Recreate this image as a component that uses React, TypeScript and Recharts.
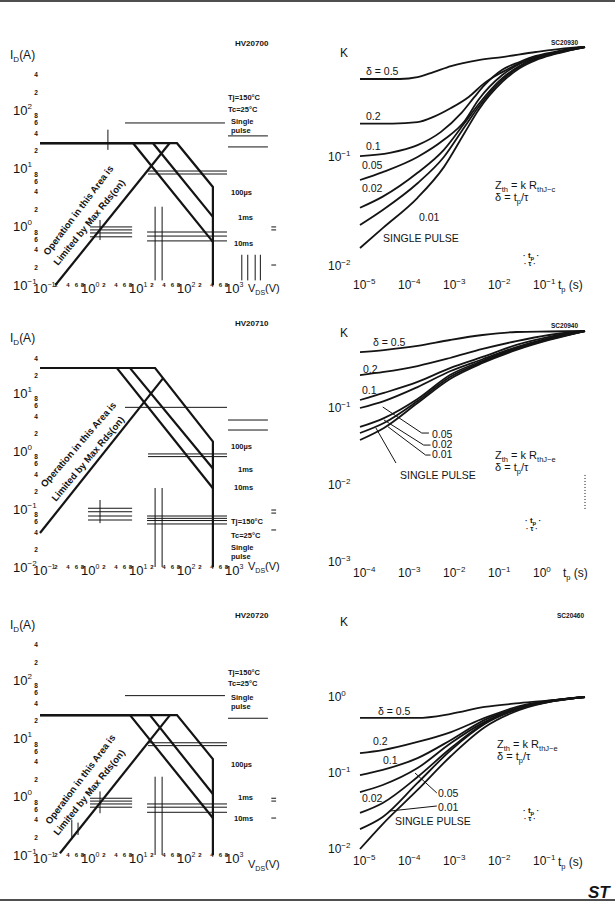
import React from 'react';
import { LineChart, Line, XAxis, YAxis, ReferenceLine } from 'recharts';

type P = [number, number];
type Seg = [number, number, number, number];

const FONT = '"Liberation Sans", Arial, Helvetica, sans-serif';
const INK = '#141414';

// ---------- Safe operating area (left column) ----------
const soaXTicks = [0.1, 0.2, 0.4, 0.6, 0.8, 1, 2, 4, 6, 8, 10, 20, 40, 60, 80, 100, 200, 400, 600, 800, 1000];
const soaYTicksA = [0.1, 0.2, 0.4, 0.6, 0.8, 1, 2, 4, 6, 8, 10, 20, 40, 60, 80, 100, 200, 400];
const soaYTicksB = [0.01, 0.02, 0.04, 0.06, 0.08, 0.1, 0.2, 0.4, 0.6, 0.8, 1, 2, 4, 6, 8, 10, 20, 40];

// HV20700
const hv20700_100us: P[] = [[0.1, 27], [71.5, 27], [400, 4.8], [400, 0.1]];
const hv20700_1ms: P[] = [[0.1, 27], [22.6, 27], [400, 1.47]];
const hv20700_10ms: P[] = [[0.1, 27], [8.7, 27], [400, 0.55]];
const hv20700_rds: P[] = [[0.21, 0.1], [50, 27]];
const hv20700_marks: Seg[] = [
  [5.9, 60, 714, 60], [826, 36, 5600, 36], [826, 23.3, 5600, 23.3],
  [17.8, 9.0, 787, 9.0], [17.8, 8.0, 787, 8.0],
  [1.1, 0.99, 8.3, 0.99], [1.1, 0.88, 8.3, 0.88], [1.1, 0.78, 8.3, 0.78], [1.1, 0.67, 8.3, 0.67],
  [1.78, 1.3, 1.78, 0.59],
  [17, 0.81, 787, 0.81], [17, 0.69, 787, 0.69], [17, 0.57, 787, 0.57],
  [25, 2.2, 25, 0.12], [35, 2.2, 35, 0.12],
  [1600, 0.33, 1600, 0.12], [2130, 0.33, 2130, 0.12], [3040, 0.33, 3040, 0.12], [3900, 0.33, 3900, 0.12],
  [2.6, 46, 2.6, 20.7],
  [6600, 0.99, 8300, 0.99], [6600, 0.88, 8300, 0.88], [6600, 0.22, 8300, 0.22],
];

// HV20710
const hv20710_100us: P[] = [[0.1, 27], [25, 27], [400, 1.45], [400, 0.01]];
const hv20710_1ms: P[] = [[0.1, 27], [7.5, 27], [400, 0.5]];
const hv20710_10ms: P[] = [[0.1, 27], [4.0, 27], [400, 0.228]];
const hv20710_rds: P[] = [[0.1, 0.0385], [36.5, 17.9]];
const hv20710_marks: Seg[] = [
  [5.9, 5.66, 787, 5.66], [826, 3.42, 5600, 3.42], [826, 2.3, 5600, 2.3],
  [17.8, 0.89, 787, 0.89], [17.8, 0.8, 787, 0.8],
  [1.0, 0.103, 8.3, 0.103], [1.0, 0.0897, 8.3, 0.0897], [1.0, 0.0757, 8.3, 0.0757], [1.0, 0.0646, 8.3, 0.0646],
  [1.78, 0.143, 1.78, 0.057],
  [17, 0.0757, 787, 0.0757], [17, 0.069, 787, 0.069], [17, 0.0632, 787, 0.0632], [17, 0.0552, 787, 0.0552],
  [25, 0.23, 25, 0.01], [35, 0.23, 35, 0.01],
  [6600, 0.096, 8300, 0.096], [6600, 0.085, 8300, 0.085], [6600, 0.0435, 8300, 0.0435],
];

// HV20720
const hv20720_100us: P[] = [[0.1, 25], [71.5, 25], [400, 4.4], [400, 0.1]];
const hv20720_1ms: P[] = [[0.1, 25], [19.5, 25], [400, 1.11]];
const hv20720_10ms: P[] = [[0.1, 25], [7.5, 25], [400, 0.43]];
const hv20720_rds: P[] = [[0.26, 0.107], [51, 25]];
const hv20720_marks: Seg[] = [
  [5.9, 54, 714, 54], [826, 22.1, 5600, 22.1],
  [17.8, 8.4, 787, 8.4], [17.8, 7.5, 787, 7.5],
  [1.1, 0.94, 8.3, 0.94], [1.1, 0.84, 8.3, 0.84], [1.1, 0.75, 8.3, 0.75], [1.1, 0.66, 8.3, 0.66],
  [1.78, 1.23, 1.78, 0.52],
  [17, 0.75, 787, 0.75], [17, 0.66, 787, 0.66], [17, 0.54, 787, 0.54],
  [25, 2.2, 25, 0.1], [35, 2.2, 35, 0.1],
  [0.46, 0.4, 0.46, 0.196], [0.62, 0.36, 0.62, 0.22],
  [6600, 0.94, 8300, 0.94], [6600, 0.84, 8300, 0.84], [6600, 0.43, 8300, 0.43],
];

// ---------- Thermal impedance (right column) ----------
// SC20930
const sc20930_t_hi = [1e-5, 7.7e-5, 1.9e-4, 4.3e-4, 1.05e-3, 4.3e-3, 0.0145, 0.081, 0.48, 1];
const sc20930_k05 = [0.51, 0.51, 0.53, 0.59, 0.67, 0.76, 0.81, 0.9, 0.98, 1];
const sc20930_t_mid = [1e-5, 5.3e-5, 1.9e-4, 4.3e-4, 1.05e-3, 2.6e-3, 5.9e-3, 0.0145, 0.035, 0.081, 0.2, 0.48, 1];
const sc20930_k02 = [0.2, 0.2, 0.206, 0.23, 0.277, 0.35, 0.47, 0.59, 0.71, 0.81, 0.88, 0.96, 1];
const sc20930_t_01 = [1e-5, 4.6e-5, 1.9e-4, 6.2e-4, 1.8e-3, 3.5e-3, 5.9e-3, 0.0145, 0.035, 0.081, 0.2, 0.48, 1];
const sc20930_k01 = [0.101, 0.108, 0.127, 0.167, 0.25, 0.35, 0.45, 0.62, 0.73, 0.83, 0.9, 0.96, 1];
const sc20930_t_lo = [1e-5, 3.2e-5, 1.9e-4, 7.3e-4, 2.1e-3, 4.3e-3, 0.0145, 0.035, 0.081, 0.2, 0.48, 1];
const sc20930_k005 = [0.061, 0.072, 0.099, 0.142, 0.21, 0.33, 0.555, 0.7, 0.81, 0.88, 0.96, 1];
const sc20930_k002 = [0.034, 0.043, 0.071, 0.115, 0.202, 0.3, 0.52, 0.67, 0.79, 0.875, 0.945, 1];
const sc20930_k001 = [0.0237, 0.0325, 0.057, 0.099, 0.186, 0.283, 0.5, 0.66, 0.78, 0.865, 0.94, 1];
const sc20930_ksp = [0.0146, 0.0222, 0.042, 0.08, 0.164, 0.266, 0.48, 0.64, 0.76, 0.855, 0.935, 1];

// SC20940
const sc20940_t = [1e-4, 3.4e-4, 1.9e-3, 0.01, 0.053, 0.3, 1.6, 10];
const sc20940_k05 = [0.533, 0.566, 0.639, 0.764, 0.887, 0.97, 0.985, 1];
const sc20940_k02 = [0.268, 0.294, 0.351, 0.446, 0.584, 0.74, 0.887, 1];
const sc20940_k01 = [0.127, 0.157, 0.218, 0.33, 0.46, 0.66, 0.84, 1];
const sc20940_k005 = [0.1, 0.123, 0.187, 0.3, 0.43, 0.62, 0.81, 1];
const sc20940_k002 = [0.0567, 0.074, 0.131, 0.268, 0.41, 0.6, 0.79, 1];
const sc20940_k001 = [0.0473, 0.0638, 0.123, 0.253, 0.396, 0.584, 0.78, 1];
const sc20940_ksp = [0.0384, 0.055, 0.116, 0.238, 0.384, 0.567, 0.764, 1];
const sc20940_leaders: Seg[] = [
  [3.2e-4, 0.103, 2.36e-3, 0.0473], [2.36e-3, 0.0473, 3.4e-3, 0.0473],
  [3.4e-4, 0.07, 2.6e-3, 0.033], [2.6e-3, 0.033, 3.7e-3, 0.033],
  [4.2e-4, 0.057, 2.87e-3, 0.0245], [2.87e-3, 0.0245, 3.7e-3, 0.0245],
  [2.26e-4, 0.055, 6.3e-4, 0.0193],
];
const sc20940_dots: Seg[] = [[10, 0.0135, 10, 0.0047]];

// SC20460
const sc20460_t = [1e-5, 3.2e-5, 1.9e-4, 1.05e-3, 5.9e-3, 0.035, 0.2, 1];
const sc20460_k05 = [0.53, 0.53, 0.53, 0.6, 0.74, 0.83, 0.91, 1];
const sc20460_k02 = [0.183, 0.2, 0.256, 0.346, 0.53, 0.76, 0.91, 1];
const sc20460_k01 = [0.094, 0.11, 0.157, 0.272, 0.5, 0.73, 0.9, 1];
const sc20460_k005 = [0.056, 0.0695, 0.116, 0.248, 0.47, 0.72, 0.895, 1];
const sc20460_k002 = [0.0298, 0.0403, 0.0886, 0.213, 0.455, 0.71, 0.89, 1];
const sc20460_k001 = [0.0183, 0.0264, 0.074, 0.2, 0.44, 0.7, 0.885, 1];
const sc20460_ksp = [0.01, 0.0213, 0.0598, 0.1675, 0.4, 0.675, 0.88, 1];
const sc20460_leaders: Seg[] = [
  [1.67e-4, 0.1, 5.1e-4, 0.0546],
  [4.6e-5, 0.0316, 5.1e-4, 0.0368],
];

const thX5 = [1e-5, 1e-4, 1e-3, 1e-2, 1e-1];
const thX4 = [1e-4, 1e-3, 1e-2, 1e-1, 1];

// ---------- helpers ----------
const zip = (t: number[], k: number[]): P[] => t.map((v, i) => [v, k[i]]);
const toPts = (a: P[]) => a.map(([x, y]) => ({ x, y }));
const expOf = (v: number) => Math.floor(Math.log10(v) + 1e-9);
const mantOf = (v: number) => Math.round(v / Math.pow(10, expOf(v)));
const expStr = (e: number) => (e < 0 ? '\u2212' + -e : String(e));

const Pow = ({ x, y, e, fs, sfs, sdy }: any) => (
  <text x={x} y={y} fontSize={fs} fill={INK} fontFamily={FONT}>
    10<tspan fontSize={sfs} dy={sdy}>{expStr(e)}</tspan>
  </text>
);

const soaYTick = (p: any) => {
  const v = p.payload.value;
  const m = mantOf(v);
  if (m === 1) return <Pow x={p.x - 27} y={p.y + 4.5} e={expOf(v)} fs={13} sfs={8} sdy={-6} />;
  return (
    <text x={p.x - 4} y={p.y + 2.5} fontSize={6.5} fontWeight={700} fill={INK} fontFamily={FONT} textAnchor="middle">
      {m}
    </text>
  );
};
const soaXTick = (p: any) => {
  const v = p.payload.value;
  const m = mantOf(v);
  if (m === 1) return <Pow x={p.x - 7} y={p.y + 8} e={expOf(v)} fs={13} sfs={7} sdy={-6} />;
  return (
    <text x={p.x + (m === 2 ? 1.5 : -1)} y={p.y + 1.5} fontSize={6} fontWeight={700} fill={INK} fontFamily={FONT} textAnchor="middle">
      {m}
    </text>
  );
};
const thYTick = (p: any) => <Pow x={p.x - 32} y={p.y + 4} e={expOf(p.payload.value)} fs={12} sfs={8} sdy={-5} />;
const makeThXTick = (dy: number) => (p: any) => (
  <Pow x={p.x - 7} y={p.y + dy} e={expOf(p.payload.value)} fs={12} sfs={8} sdy={-5} />
);

function SoaChart({ top, yDomain, yTicks, mTop, mBottom, series, marks }: any) {
  return (
    <div style={{ position: 'absolute', left: 0, top, width: 300, height: 300 }}>
      <LineChart width={300} height={300} margin={{ top: mTop, right: 68, bottom: mBottom, left: 0 }}>
        <XAxis type="number" dataKey="x" scale="log" domain={[0.1, 1000]} ticks={soaXTicks} interval={0}
          axisLine={false} tickLine={false} tickSize={0} tickMargin={0} height={1} tick={soaXTick} />
        <YAxis type="number" dataKey="y" scale="log" domain={yDomain} ticks={yTicks} interval={0}
          axisLine={false} tickLine={false} tickSize={0} tickMargin={0} width={40} tick={soaYTick} />
        {marks.map((s: Seg, i: number) => (
          <ReferenceLine key={'m' + i} segment={[{ x: s[0], y: s[1] }, { x: s[2], y: s[3] }]}
            stroke={INK} strokeWidth={1} ifOverflow="visible" />
        ))}
        {series.map((d: P[], i: number) => (
          <Line key={i} data={toPts(d)} dataKey="y" type="linear" stroke={INK} strokeWidth={2.2}
            dot={false} isAnimationActive={false} />
        ))}
      </LineChart>
    </div>
  );
}

function ThermalChart({ top, xDomain, yDomain, xTicks, yTicks, mTop, mBottom, xLabelDy, curves, leaders, dotted }: any) {
  return (
    <div style={{ position: 'absolute', left: 300, top, width: 315, height: 300 }}>
      <LineChart width={315} height={300} margin={{ top: mTop, right: 30, bottom: mBottom, left: 0 }}>
        <XAxis type="number" dataKey="x" scale="log" domain={xDomain} ticks={xTicks} interval={0}
          axisLine={false} tickLine={false} tickSize={0} tickMargin={0} height={1} tick={makeThXTick(xLabelDy)} />
        <YAxis type="number" dataKey="y" scale="log" domain={yDomain} ticks={yTicks} interval={0}
          axisLine={false} tickLine={false} tickSize={0} tickMargin={0} width={60} tick={thYTick} />
        {(leaders || []).map((s: Seg, i: number) => (
          <ReferenceLine key={'l' + i} segment={[{ x: s[0], y: s[1] }, { x: s[2], y: s[3] }]}
            stroke={INK} strokeWidth={1} ifOverflow="visible" />
        ))}
        {(dotted || []).map((s: Seg, i: number) => (
          <ReferenceLine key={'d' + i} segment={[{ x: s[0], y: s[1] }, { x: s[2], y: s[3] }]}
            stroke={INK} strokeWidth={1} strokeDasharray="1 2" ifOverflow="visible" />
        ))}
        {curves.map((d: P[], i: number) => (
          <Line key={i} data={toPts(d)} dataKey="y" type="monotone" stroke={INK} strokeWidth={1.8}
            dot={false} isAnimationActive={false} />
        ))}
      </LineChart>
    </div>
  );
}

const Txt = ({ x, y, fs = 10, w = 400, rot, children, italic, ls }: any) => (
  <text x={x} y={y} fontSize={fs} fontWeight={w} fill={INK} fontFamily={FONT} fontStyle={italic ? 'italic' : undefined}
    letterSpacing={ls} transform={rot !== undefined ? `rotate(${rot} ${x} ${y})` : undefined}>
    {children}
  </text>
);

const ID = ({ x, y }: any) => (
  <Txt x={x} y={y} fs={12}>I<tspan dy={3} fontSize={8}>D</tspan><tspan dy={-3}>(A)</tspan></Txt>
);
const VDS = ({ x, y }: any) => (
  <Txt x={x} y={y} fs={11}>V<tspan dy={3} fontSize={7}>DS</tspan><tspan dy={-3}>(V)</tspan></Txt>
);
const TPS = ({ x, y }: any) => (
  <Txt x={x} y={y} fs={12}>t<tspan dy={2.5} fontSize={7.5}>p</tspan><tspan dy={-2.5}> (s)</tspan></Txt>
);
const Zth = ({ x, y, sfx }: any) => (
  <>
    <Txt x={x} y={y} fs={11}>Z<tspan dy={2.5} fontSize={7.5}>th</tspan><tspan dy={-2.5}> = k R</tspan><tspan dy={2.5} fontSize={7.5}>{'thJ\u2212' + sfx}</tspan></Txt>
    <Txt x={x} y={y + 12} fs={11}>δ = t<tspan dy={2.5} fontSize={7.5}>p</tspan><tspan dy={-2.5}>/τ</tspan></Txt>
  </>
);
const PulseGlyph = ({ x, y }: any) => (
  <>
    <Txt x={x} y={y} fs={8} w={700}>· t<tspan dy={2} fontSize={6}>p</tspan><tspan dy={-2}> ·</tspan></Txt>
    <Txt x={x + 1} y={y + 8} fs={7} w={700}>·  τ  ·</Txt>
  </>
);

const soaLegend = ['Tj=150°C', 'Tc=25°C', 'Single', 'pulse'];
const soaPulses = ['100µs', '1ms', '10ms'];
const rdsText = ['Operation in this Area is', 'Limited by Max Rds(on)'];
const dutyLabels = ['δ = 0.5', '0.2', '0.1', '0.05', '0.02', '0.01', 'SINGLE PULSE'];

export default function App() {
  return (
    <div style={{ position: 'absolute', left: 0, top: 0, width: 615, height: 908, background: '#fff', overflow: 'hidden' }}>
      <SoaChart top={0} yDomain={[0.1, 1000]} yTicks={soaYTicksA} mTop={51.7} mBottom={14}
        series={[hv20700_100us, hv20700_1ms, hv20700_10ms, hv20700_rds]} marks={hv20700_marks} />
      <SoaChart top={300} yDomain={[0.01, 100]} yTicks={soaYTicksB} mTop={35} mBottom={32}
        series={[hv20710_100us, hv20710_1ms, hv20710_10ms, hv20710_rds]} marks={hv20710_marks} />
      <SoaChart top={570} yDomain={[0.1, 1000]} yTicks={soaYTicksA} mTop={51.7} mBottom={14}
        series={[hv20720_100us, hv20720_1ms, hv20720_10ms, hv20720_rds]} marks={hv20720_marks} />

      <ThermalChart top={0} xDomain={[1e-5, 1]} yDomain={[0.01, 1]} xTicks={thX5} yTicks={[0.01, 0.1]}
        mTop={47} mBottom={33} xLabelDy={23}
        curves={[
          zip(sc20930_t_hi, sc20930_k05), zip(sc20930_t_mid, sc20930_k02), zip(sc20930_t_01, sc20930_k01),
          zip(sc20930_t_lo, sc20930_k005), zip(sc20930_t_lo, sc20930_k002), zip(sc20930_t_lo, sc20930_k001),
          zip(sc20930_t_lo, sc20930_ksp),
        ]} />
      <ThermalChart top={300} xDomain={[1e-4, 10]} yDomain={[0.001, 1]} xTicks={thX4} yTicks={[0.001, 0.01, 0.1]}
        mTop={31} mBottom={37} xLabelDy={15} leaders={sc20940_leaders} dotted={sc20940_dots}
        curves={[sc20940_k05, sc20940_k02, sc20940_k01, sc20940_k005, sc20940_k002, sc20940_k001, sc20940_ksp].map((k) => zip(sc20940_t, k))} />
      <ThermalChart top={600} xDomain={[1e-5, 1]} yDomain={[0.01, 1]} xTicks={thX5} yTicks={[0.01, 0.1, 1]}
        mTop={97} mBottom={50} xLabelDy={16} leaders={sc20460_leaders}
        curves={[sc20460_k05, sc20460_k02, sc20460_k01, sc20460_k005, sc20460_k002, sc20460_k001, sc20460_ksp].map((k) => zip(sc20460_t, k))} />

      <svg width={615} height={908} style={{ position: 'absolute', left: 0, top: 0, pointerEvents: 'none' }}>
        <line x1={0} x2={615} y1={1} y2={1} stroke={INK} strokeWidth={1.5} />
        <line x1={0} x2={615} y1={900} y2={900} stroke={INK} strokeWidth={1.5} />

        {/* SOA 1 */}
        <Txt x={235} y={46} fs={8} w={700}>HV20700</Txt>
        <ID x={10} y={59} />
        {soaLegend.map((s, i) => <Txt key={s} x={i < 2 ? 228 : 231} y={[100, 112, 124, 133][i]} fs={7.5} w={700}>{s}</Txt>)}
        {soaPulses.map((s, i) => <Txt key={s} x={[231, 238, 234][i]} y={[195, 220, 246][i]} fs={7.5} w={700}>{s}</Txt>)}
        <VDS x={248} y={292} />
        <Txt x={48} y={256} fs={9.5} w={700} rot={-53}>{rdsText[0]}</Txt>
        <Txt x={58} y={266} fs={9.5} w={700} rot={-51}>{rdsText[1]}</Txt>

        {/* SOA 2 */}
        <Txt x={235} y={326} fs={8} w={700}>HV20710</Txt>
        <ID x={10} y={342} />
        {soaPulses.map((s, i) => <Txt key={s} x={[231, 238, 234][i]} y={[449, 472, 490][i]} fs={7.5} w={700}>{s}</Txt>)}
        {soaLegend.map((s, i) => <Txt key={s} x={231} y={[524, 538, 550, 559][i]} fs={7.5} w={700}>{s}</Txt>)}
        <VDS x={248} y={570} />
        <Txt x={45} y={488} fs={9.5} w={700} rot={-49}>{rdsText[0]}</Txt>
        <Txt x={56} y={502} fs={9.5} w={700} rot={-50}>{rdsText[1]}</Txt>

        {/* SOA 3 */}
        <Txt x={235} y={618} fs={8} w={700}>HV20720</Txt>
        <ID x={10} y={629} />
        {soaLegend.map((s, i) => <Txt key={s} x={i < 2 ? 228 : 231} y={[675, 686, 700, 709][i]} fs={7.5} w={700}>{s}</Txt>)}
        {soaPulses.map((s, i) => <Txt key={s} x={[231, 238, 234][i]} y={[767, 800, 821][i]} fs={7.5} w={700}>{s}</Txt>)}
        <VDS x={248} y={868} />
        <Txt x={50} y={825} fs={9.5} w={700} rot={-53}>{rdsText[0]}</Txt>
        <Txt x={58} y={836} fs={9.5} w={700} rot={-51}>{rdsText[1]}</Txt>

        {/* Thermal 1 */}
        <Txt x={340} y={57} fs={12}>K</Txt>
        <Txt x={551} y={45} fs={6.5} w={700}>SC20930</Txt>
        <Txt x={366} y={75} fs={10.5}>{dutyLabels[0]}</Txt>
        <Txt x={366} y={120} fs={10.5}>{dutyLabels[1]}</Txt>
        <Txt x={366} y={150} fs={10.5}>{dutyLabels[2]}</Txt>
        <Txt x={362} y={169} fs={10.5}>{dutyLabels[3]}</Txt>
        <Txt x={362} y={192} fs={10.5}>{dutyLabels[4]}</Txt>
        <Txt x={419} y={221} fs={10.5}>{dutyLabels[5]}</Txt>
        <Txt x={383} y={242} fs={10.5}>{dutyLabels[6]}</Txt>
        <Zth x={495} y={189} sfx="c" />
        <PulseGlyph x={523} y={258} />
        <TPS x={558} y={289} />

        {/* Thermal 2 */}
        <Txt x={340} y={337} fs={12}>K</Txt>
        <Txt x={551} y={328} fs={6.5} w={700}>SC20940</Txt>
        <Txt x={373} y={346} fs={10.5}>{dutyLabels[0]}</Txt>
        <Txt x={363} y={373} fs={10.5}>{dutyLabels[1]}</Txt>
        <Txt x={362} y={394} fs={10.5}>{dutyLabels[2]}</Txt>
        <Txt x={432} y={438} fs={10.5}>{dutyLabels[3]}</Txt>
        <Txt x={432} y={448} fs={10.5}>{dutyLabels[4]}</Txt>
        <Txt x={432} y={458} fs={10.5}>{dutyLabels[5]}</Txt>
        <Txt x={400} y={479} fs={10.5}>{dutyLabels[6]}</Txt>
        <Zth x={495} y={459} sfx="e" />
        <PulseGlyph x={525} y={523} />
        <TPS x={563} y={577} />

        {/* Thermal 3 */}
        <Txt x={340} y={626} fs={12}>K</Txt>
        <Txt x={557} y={618} fs={6.5} w={700}>SC20460</Txt>
        <Txt x={378} y={715} fs={10.5}>{dutyLabels[0]}</Txt>
        <Txt x={373} y={745} fs={10.5}>{dutyLabels[1]}</Txt>
        <Txt x={383} y={764} fs={10.5}>{dutyLabels[2]}</Txt>
        <Txt x={438} y={797} fs={10.5}>{dutyLabels[3]}</Txt>
        <Txt x={362} y={802} fs={10.5}>{dutyLabels[4]}</Txt>
        <Txt x={438} y={811} fs={10.5}>{dutyLabels[5]}</Txt>
        <Txt x={395} y={825} fs={10.5}>{dutyLabels[6]}</Txt>
        <Zth x={497} y={748} sfx="e" />
        <PulseGlyph x={523} y={813} />
        <TPS x={558} y={866} />

        <Txt x={588} y={898} fs={17} w={900} italic>ST</Txt>
      </svg>
    </div>
  );
}
